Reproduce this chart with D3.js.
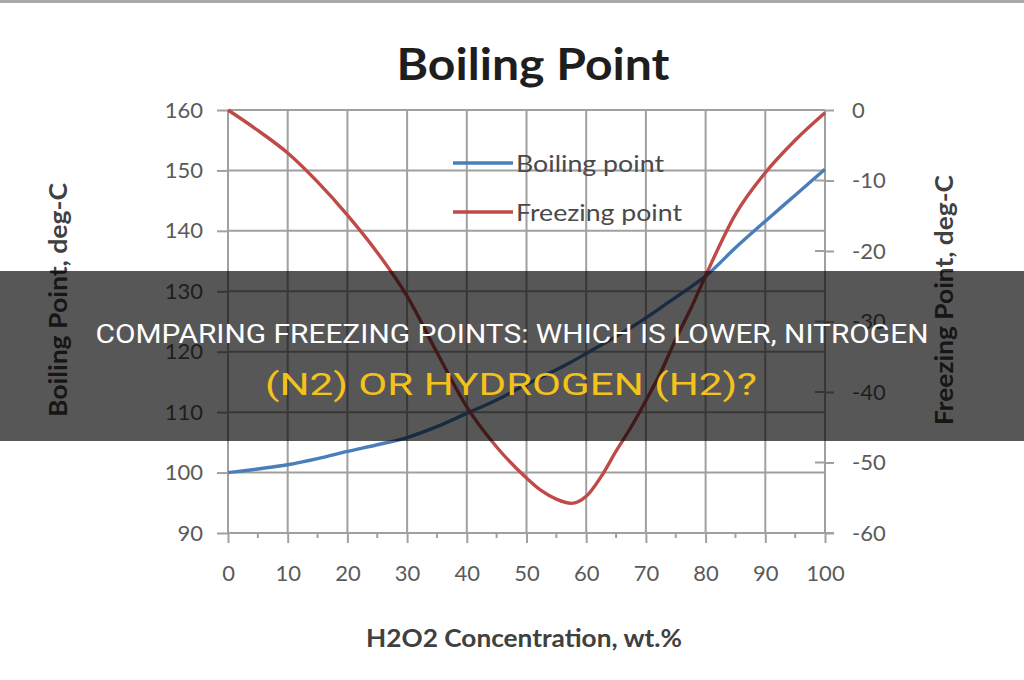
<!DOCTYPE html>
<html>
<head>
<meta charset="utf-8">
<script src="https://cdn.jsdelivr.net/npm/d3@7"></script>
<style>
  html, body { margin: 0; padding: 0; background: #fff; }
  svg { display: block; }
</style>
</head>
<body>
<svg id="chart" width="1024" height="680"></svg>
<script>
// ---- data ----
const concentration = [0, 5, 10, 15, 20, 25, 30, 35, 40, 45, 50, 52.5, 55, 57.5, 60, 62.5, 65, 67.5, 70, 72.5, 75, 77.5, 80, 85, 90, 95, 100];
const boilingPoint  = [100, 100.6, 101.3, 102.3, 103.5, 104.6, 105.8, 107.6, 109.8, 112, 114.6, 115.8, 117, 118.3, 119.7, 121.1, 122.5, 124, 125.6, 127.3, 129, 130.7, 132.5, 137.2, 141.6, 145.9, 150.2];
const freezingPoint = [0, -2.9, -6.1, -10.2, -14.9, -20.2, -26.4, -34.4, -42.1, -47.8, -52.2, -54, -55.2, -55.8, -54.8, -52, -48.4, -45, -41.2, -37.2, -32.5, -28.2, -23.5, -14.8, -8.9, -4.3, -0.4];
const xTicks = [0, 10, 20, 30, 40, 50, 60, 70, 80, 90, 100];
const xMinorTicks = [5, 15, 25, 35, 45, 55, 65, 75, 85, 95];
const leftTicks = [90, 100, 110, 120, 130, 140, 150, 160];
const rightTicks = [0, -10, -20, -30, -40, -50, -60];
const seriesNames = ["Boiling point", "Freezing point"];
const chartTitle = "Boiling Point";
const xTitle = "H2O2 Concentration, wt.%";
const leftTitle = "Boiling Point, deg-C";
const rightTitle = "Freezing Point, deg-C";
const bannerLines = ["COMPARING FREEZING POINTS: WHICH IS LOWER, NITROGEN", "(N2) OR HYDROGEN (H2)?"];

// ---- layout ----
const svg = d3.select("#chart");
const L = 228, R = 825, T = 110, B = 533;
const x = d3.scaleLinear().domain([0, 100]).range([L, R]);
const yL = d3.scaleLinear().domain([90, 160]).range([B, T]);
const yR = d3.scaleLinear().domain([-60, 0]).range([B, T]);
const gridColor = "#a0a0a0";
const labelFont = "Lato, 'Open Sans', sans-serif";

// top strip
svg.append("rect").attr("x", 0).attr("y", 0).attr("width", 1024).attr("height", 3).attr("fill", "#a8a8a8");

// title
svg.append("text").attr("x", 533).attr("y", 80).attr("text-anchor", "middle")
  .attr("font-family", labelFont).attr("font-weight", 700).attr("font-size", 44)
  .attr("textLength", 273).attr("lengthAdjust", "spacingAndGlyphs")
  .attr("fill", "#1e1e1e").text(chartTitle);

// grid
const grid = svg.append("g").attr("stroke", gridColor).attr("stroke-width", 2);
grid.selectAll("line.h").data(leftTicks).join("line").attr("class", "h")
  .attr("x1", L).attr("x2", d => d === 90 ? R + 9 : R)
  .attr("y1", d => yL(d)).attr("y2", d => yL(d));
grid.selectAll("line.v").data(xTicks).join("line").attr("class", "v")
  .attr("x1", d => x(d)).attr("x2", d => x(d)).attr("y1", T).attr("y2", B);
grid.selectAll("line.m").data(xMinorTicks).join("line").attr("class", "m")
  .attr("x1", d => x(d)).attr("x2", d => x(d)).attr("y1", B).attr("y2", B + 5);
grid.selectAll("line.ri").data(rightTicks).join("line").attr("class", "ri")
  .attr("x1", R - 10).attr("x2", R).attr("y1", d => yR(d)).attr("y2", d => yR(d));

function styleAxis(g) {
  g.select(".domain").remove();
  g.selectAll(".tick line").attr("stroke", gridColor).attr("stroke-width", 2);
  g.selectAll(".tick text").attr("font-family", labelFont).attr("font-size", 22).attr("fill", "#5a5a5a");
}

svg.append("g").attr("transform", `translate(${L},0)`)
  .call(d3.axisLeft(yL).tickValues(leftTicks).tickSize(11).tickPadding(14)).call(styleAxis);
svg.append("g").attr("transform", `translate(0,${B})`)
  .call(d3.axisBottom(x).tickValues(xTicks).tickSize(10).tickPadding(22)).call(styleAxis);
svg.append("g").attr("transform", `translate(${R},0)`)
  .call(d3.axisRight(yR).tickValues(rightTicks).tickFormat(d => String(d)).tickSize(9).tickPadding(18)).call(styleAxis);

// axis titles
svg.append("text").attr("transform", `translate(57,300) rotate(-90)`)
  .attr("text-anchor", "middle").attr("dominant-baseline", "central")
  .attr("font-family", labelFont).attr("font-weight", 700).attr("font-size", 25)
  .attr("textLength", 234).attr("lengthAdjust", "spacingAndGlyphs")
  .attr("fill", "#404040").text(leftTitle);
svg.append("text").attr("transform", `translate(943,300) rotate(-90)`)
  .attr("text-anchor", "middle").attr("dominant-baseline", "central")
  .attr("font-family", labelFont).attr("font-weight", 700).attr("font-size", 25)
  .attr("textLength", 250).attr("lengthAdjust", "spacingAndGlyphs")
  .attr("fill", "#404040").text(rightTitle);
svg.append("text").attr("x", 524).attr("y", 647).attr("text-anchor", "middle")
  .attr("font-family", labelFont).attr("font-weight", 700).attr("font-size", 24)
  .attr("textLength", 316).attr("lengthAdjust", "spacingAndGlyphs")
  .attr("fill", "#404040").text(xTitle);

// lines
const bpData = concentration.map((c, i) => [c, boilingPoint[i]]);
const fpData = concentration.map((c, i) => [c, freezingPoint[i]]);
const colors = ["#4a7ebb", "#be4b48"];
svg.append("path").datum(bpData).attr("fill", "none").attr("stroke", colors[0]).attr("stroke-width", 3.4)
  .attr("d", d3.line().x(d => x(d[0])).y(d => yL(d[1])).curve(d3.curveMonotoneX));
svg.append("path").datum(fpData).attr("fill", "none").attr("stroke", colors[1]).attr("stroke-width", 3.4)
  .attr("d", d3.line().x(d => x(d[0])).y(d => yR(d[1])).curve(d3.curveMonotoneX));

// legend
const legY = [163, 212];
const legW = [148, 166];
const leg = svg.append("g");
seriesNames.forEach((name, i) => {
  leg.append("line").attr("x1", 453).attr("x2", 513).attr("y1", legY[i]).attr("y2", legY[i])
    .attr("stroke", colors[i]).attr("stroke-width", 3.4);
  leg.append("text").attr("x", 516).attr("y", legY[i]).attr("dominant-baseline", "central")
    .attr("font-family", labelFont).attr("font-size", 23).attr("fill", "#4a4a4a")
    .attr("textLength", legW[i]).attr("lengthAdjust", "spacingAndGlyphs").text(name);
});

// banner overlay
svg.append("rect").attr("x", 0).attr("y", 271).attr("width", 1024).attr("height", 170)
  .attr("fill", "rgba(0,0,0,0.66)");
svg.append("text").attr("x", 512).attr("y", 343).attr("text-anchor", "middle")
  .attr("font-family", "Roboto, sans-serif").attr("font-size", 26).attr("fill", "#ffffff")
  .attr("textLength", 833).attr("lengthAdjust", "spacingAndGlyphs").text(bannerLines[0]);
svg.append("text").attr("x", 511).attr("y", 395).attr("text-anchor", "middle")
  .attr("font-family", "Roboto, sans-serif").attr("font-size", 32).attr("fill", "#f5c21c")
  .attr("textLength", 492).attr("lengthAdjust", "spacingAndGlyphs").text(bannerLines[1]);
</script>
</body>
</html>
